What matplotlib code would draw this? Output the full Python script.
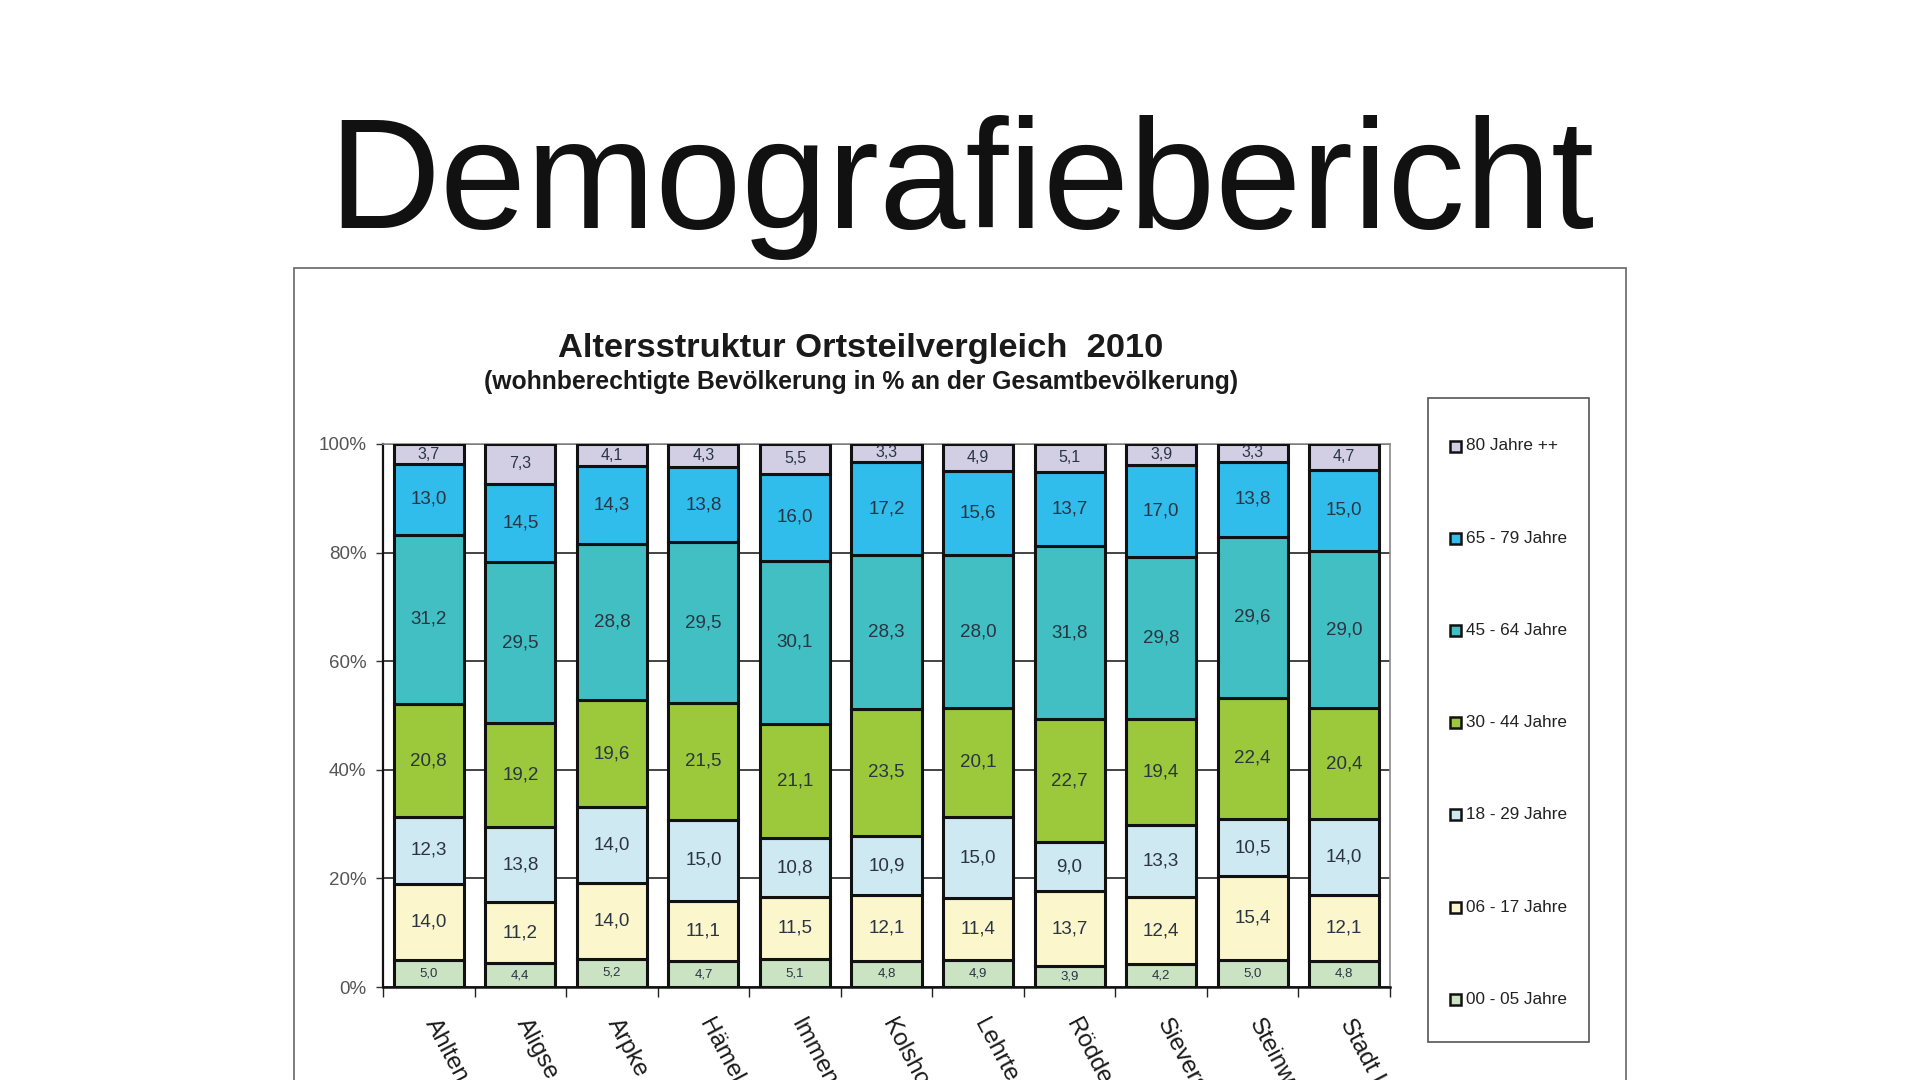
import matplotlib
matplotlib.use("Agg")
import matplotlib.pyplot as plt
import matplotlib.transforms as mtransforms
from matplotlib.patches import Rectangle
import numpy as np

plt.rcParams['font.family'] = ['Liberation Sans', 'DejaVu Sans']

# ---------------- data ----------------
categories = ["Ahlten", "Aligse", "Arpke", "Hämelerwald", "Immensen", "Kolshorn",
              "Lehrte", "Röddensen", "Sievershausen", "Steinwedel", "Stadt Lehrte"]

age_groups = ["00 - 05 Jahre", "06 - 17 Jahre", "18 - 29 Jahre", "30 - 44 Jahre",
              "45 - 64 Jahre", "65 - 79 Jahre", "80 Jahre ++"]

v_00_05 = [5.0, 4.4, 5.2, 4.7, 5.1, 4.8, 4.9, 3.9, 4.2, 5.0, 4.8]
v_06_17 = [14.0, 11.2, 14.0, 11.1, 11.5, 12.1, 11.4, 13.7, 12.4, 15.4, 12.1]
v_18_29 = [12.3, 13.8, 14.0, 15.0, 10.8, 10.9, 15.0, 9.0, 13.3, 10.5, 14.0]
v_30_44 = [20.8, 19.2, 19.6, 21.5, 21.1, 23.5, 20.1, 22.7, 19.4, 22.4, 20.4]
v_45_64 = [31.2, 29.5, 28.8, 29.5, 30.1, 28.3, 28.0, 31.8, 29.8, 29.6, 29.0]
v_65_79 = [13.0, 14.5, 14.3, 13.8, 16.0, 17.2, 15.6, 13.7, 17.0, 13.8, 15.0]
v_80_plus = [3.7, 7.3, 4.1, 4.3, 5.5, 3.3, 4.9, 5.1, 3.9, 3.3, 4.7]

series = [v_00_05, v_06_17, v_18_29, v_30_44, v_45_64, v_65_79, v_80_plus]
colors = ["#c9e3c3", "#fbf6cc", "#cfe9f2", "#9cc83b", "#41bfc3", "#30bdec", "#d2cfe5"]
label_sizes = [9.5, 13.5, 13.5, 13.5, 13.5, 13.5, 11.5]

yticks = [0, 20, 40, 60, 80, 100]
ytick_labels = ["0%", "20%", "40%", "60%", "80%", "100%"]

# ---------------- figure ----------------
W, H = 1920, 1080
fig = plt.figure(figsize=(19.2, 10.8), dpi=100)

def fx(px):
    return px / W

def fy(py):
    return 1 - py / H

# Big page title
fig.text(fx(961), fy(228), "Demografiebericht", fontsize=111.5, ha="center",
         va="baseline", color="#111111")

# outer chart frame
fig.patches.append(Rectangle((fx(294), fy(1100)), fx(1626) - fx(294), fy(268) - fy(1100),
                             transform=fig.transFigure, fill=False,
                             edgecolor="#666666", linewidth=1.2))

# chart titles
fig.text(fx(861), fy(357), "Altersstruktur Ortsteilvergleich  2010", fontsize=24.8,
         fontweight="bold", ha="center", va="baseline", color="#1a1a1a")
fig.text(fx(861), fy(389), "(wohnberechtigte Bevölkerung in % an der Gesamtbevölkerung)",
         fontsize=17.8, fontweight="bold", ha="center", va="baseline", color="#1a1a1a")

# axes
ax = fig.add_axes([fx(383), fy(987), fx(1390) - fx(383), fy(444) - fy(987)])

data = np.array(series, dtype=float)
totals = data.sum(axis=0)
pct = data / totals * 100.0
x = np.arange(len(categories))
bottom = np.zeros(len(categories))
bar_w = 0.765

for i, (vals, p) in enumerate(zip(series, pct)):
    bars = ax.bar(x, p, bar_w, bottom=bottom, color=colors[i], edgecolor="#111111",
                  linewidth=2.2, zorder=3)
    labels = [f"{v:.1f}".replace(".", ",") for v in vals]
    ax.bar_label(bars, labels=labels, label_type="center", fontsize=label_sizes[i],
                 color="#2a3442", zorder=4)
    bottom += p

ax.set_xlim(-0.5, len(categories) - 0.5)
ax.set_ylim(0, 100)

# grid
ax.set_yticks(yticks)
ax.set_yticklabels(ytick_labels)
ax.yaxis.grid(True, color="#111111", linewidth=1.1, zorder=0)
ax.set_axisbelow(True)
ax.tick_params(axis="y", direction="out", length=5, width=1, labelsize=13.5,
               labelcolor="#555555", pad=7, color="#333333")

# category labels (rotated, offset slightly right of the category centre)
ax.set_xticks(x)
ax.set_xticklabels([""] * len(categories))
ax.tick_params(axis="x", which="major", length=0)
lbl_trans = ax.get_xaxis_transform() + mtransforms.ScaledTranslation(0.11, -0.28, fig.dpi_scale_trans)
for xi, name in zip(x, categories):
    ax.text(xi, 0, name, transform=lbl_trans, rotation=-62, ha="left", va="top",
            rotation_mode="anchor", fontsize=17.5, color="#1a1a1a", clip_on=False)

ax.set_xticks(np.arange(-0.5, len(categories), 1.0), minor=True)
ax.tick_params(axis="x", which="minor", direction="out", length=7, width=1, color="#222222")

for side in ["top", "right"]:
    ax.spines[side].set_color("#8a8a8a")
    ax.spines[side].set_linewidth(1.2)
ax.spines["left"].set_color("#111111")
ax.spines["left"].set_linewidth(1.6)
ax.spines["bottom"].set_color("#111111")
ax.spines["bottom"].set_linewidth(1.8)

# legend (drawn manually to match the tall boxed layout)
fig.patches.append(Rectangle((fx(1428), fy(1042)), fx(1589) - fx(1428), fy(398) - fy(1042),
                             transform=fig.transFigure, fill=False,
                             edgecolor="#555555", linewidth=1.2))
for k, i in enumerate(range(len(age_groups) - 1, -1, -1)):
    yc = 446 + k * 92.2
    fig.patches.append(Rectangle((fx(1450), fy(yc + 5.5)), fx(11), 11 / H,
                                 transform=fig.transFigure, facecolor=colors[i],
                                 edgecolor="#111111", linewidth=1.8))
    fig.text(fx(1466), fy(yc), age_groups[i], fontsize=12.3, ha="left", va="center",
             color="#222222")

fig.savefig("out.png", dpi=100)
